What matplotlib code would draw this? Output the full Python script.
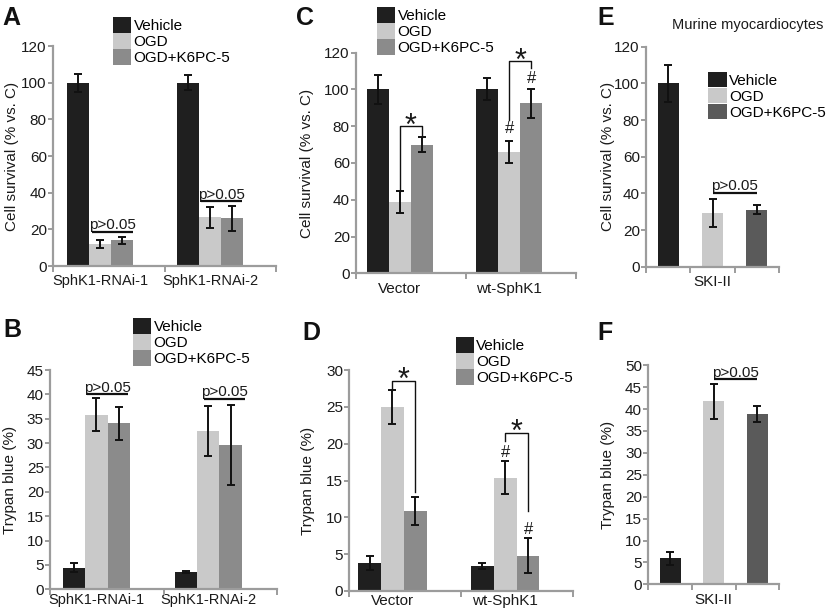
import matplotlib
matplotlib.use("Agg")
import matplotlib.pyplot as plt
import matplotlib.transforms as mtransforms
from matplotlib.patches import Patch

plt.rcParams['font.family'] = ['Liberation Sans', 'DejaVu Sans']

# ---------------- data ----------------
series_names = ["Vehicle", "OGD", "OGD+K6PC-5"]
groups_ab = ["SphK1-RNAi-1", "SphK1-RNAi-2"]
groups_cd = ["Vector", "wt-SphK1"]
group_ef = ["SKI-II"]

# Panel A: cell survival (% vs. C)
a_vehicle = [100, 100]
a_vehicle_err = [5, 4]
a_ogd = [12, 26.5]
a_ogd_err = [2, 5.7]
a_k6 = [14, 26]
a_k6_err = [2, 7]

# Panel B: trypan blue (%)
b_vehicle = [4.4, 3.5]
b_vehicle_err = [0.9, 0.25]
b_ogd = [35.8, 32.5]
b_ogd_err = [3.4, 5.1]
b_k6 = [34.1, 29.7]
b_k6_err = [3.4, 8.2]

# Panel C: cell survival (% vs. C)
c_vehicle = [100, 100]
c_vehicle_err = [8, 6]
c_ogd = [39, 66]
c_ogd_err = [6, 6]
c_k6 = [70, 92.5]
c_k6_err = [4, 8]

# Panel D: trypan blue (%)
d_vehicle = [3.8, 3.4]
d_vehicle_err = [0.9, 0.4]
d_ogd = [25, 15.4]
d_ogd_err = [2.3, 2.2]
d_k6 = [10.8, 4.8]
d_k6_err = [1.9, 2.4]

# Panel E: murine myocardiocytes, cell survival
e_values = [100, 29.5, 31]
e_errors = [10, 7.6, 2.5]

# Panel F: trypan blue
f_values = [5.9, 41.8, 38.9]
f_errors = [1.5, 4, 1.85]

# ---------------- style ----------------
W, H = 830, 612
COL_VEH = '#1f1f1f'
COL_OGD = '#c9c9c9'
COL_K6 = '#8b8b8b'
COL_K6_DARK = '#5a5a5a'
AXCOL = '#9c9c9c'
TXT = '#1a1a1a'
FS = 11

fig = plt.figure(figsize=(W / 100, H / 100), dpi=100)


def px_rect(left, right, top, bottom):
    return [left / W, 1 - bottom / H, (right - left) / W, (bottom - top) / H]


def style_axes(ax, ylim, ystep, ylabel, ylabel_x, xpad):
    for s in ('top', 'right'):
        ax.spines[s].set_visible(False)
    for s in ('left', 'bottom'):
        ax.spines[s].set_color(AXCOL)
        ax.spines[s].set_linewidth(1.6)
    ax.set_ylim(*ylim)
    ticks = list(range(ylim[0], ylim[1] + 1, ystep))
    ax.set_yticks(ticks)
    ax.tick_params(axis='y', which='major', direction='out', length=3.5, width=1.4,
                   color=AXCOL, labelcolor=TXT, labelsize=FS, pad=1)
    ax.tick_params(axis='x', which='major', length=0, labelcolor=TXT, labelsize=FS, pad=xpad)
    ax.tick_params(axis='x', which='minor', direction='out', length=4, width=1.4, color=AXCOL)
    ax.set_ylabel(ylabel, fontsize=FS, color=TXT)
    ax.yaxis.label.set_va('center')
    tr = mtransforms.blended_transform_factory(fig.transFigure, ax.transAxes)
    ax.yaxis.set_label_coords(ylabel_x / W, 0.5, transform=tr)


def add_legend(ax, colors, x_px, y_px):
    handles = [Patch(facecolor=c, edgecolor='none') for c in colors]
    ax.legend(handles, series_names, loc='upper left',
              bbox_to_anchor=(x_px / W, 1 - y_px / H), bbox_transform=fig.transFigure,
              frameon=False, fontsize=FS, handlelength=1.2, handleheight=1.2,
              handletextpad=0.15, labelspacing=0.0, borderpad=0, borderaxespad=0)


def err(ax, x, v, e):
    ax.errorbar(x, v, yerr=e, fmt='none', ecolor='#111111', elinewidth=1.4,
                capsize=2.6, capthick=1.4, zorder=3)


def sig_line(ax, x1, x2, y, text='p>0.05'):
    ax.plot([x1, x2], [y, y], color='#111111', lw=1.6, solid_capstyle='butt',
            clip_on=False, zorder=4)
    ax.annotate(text, xy=((x1 + x2) / 2, y), xytext=(0, 2), textcoords='offset points',
                ha='center', va='baseline', fontsize=FS, color=TXT)


def bracket(ax, x1, x2, y, yl, yr):
    ax.plot([x1, x1, x2, x2], [yl, y, y, yr], color='#111111', lw=1.0,
            clip_on=False, zorder=4)
    ax.annotate('*', xy=((x1 + x2) / 2, y), xytext=(0, -6.0), textcoords='offset points',
                ha='center', va='baseline', fontsize=22, color=TXT)


def hash_mark(ax, x, y, off=3.3):
    ax.annotate('#', xy=(x, y), xytext=(0, off), textcoords='offset points',
                ha='center', va='baseline', fontsize=12, color=TXT)


def grouped_panel(rect, span, starts, ylim, ystep, ylabel, ylabel_x, groups, vals, errs, xpad):
    ax = fig.add_axes(rect)
    colors = [COL_VEH, COL_OGD, COL_K6]
    for i in range(3):
        xs = [s + 0.5 + i for s in starts]
        ax.bar(xs, vals[i], width=1.0, color=colors[i], zorder=2)
        err(ax, xs, vals[i], errs[i])
    ax.set_xlim(0, span)
    ax.set_xticks([s + 1.5 for s in starts])
    ax.set_xticklabels(groups)
    ax.set_xticks([0, span / 2, span], minor=True)
    style_axes(ax, ylim, ystep, ylabel, ylabel_x, xpad)
    return ax


# ---------------- Panel A ----------------
starts_a = [0.64, 5.64]
axA = grouped_panel(px_rect(53, 276, 46, 266), 10.14, starts_a, (0, 120), 20,
                    'Cell survival (% vs. C)', 12, groups_ab,
                    [a_vehicle, a_ogd, a_k6], [a_vehicle_err, a_ogd_err, a_k6_err], 6)
axA.tick_params(axis='x', which='major', labelsize=10.5)
sig_line(axA, starts_a[0] + 1.15, starts_a[0] + 3.0, 18.4)
sig_line(axA, starts_a[1] + 1.1, starts_a[1] + 2.95, 35.3)
add_legend(axA, [COL_VEH, COL_OGD, COL_K6], 113, 17)

# ---------------- Panel B ----------------
starts_b = [0.58, 5.6]
axB = grouped_panel(px_rect(50, 277, 370, 589.3), 10.18, starts_b, (0, 45), 5,
                    'Trypan blue (%)', 10, groups_ab,
                    [b_vehicle, b_ogd, b_k6], [b_vehicle_err, b_ogd_err, b_k6_err], 3)
axB.tick_params(axis='x', which='major', labelsize=10.5)
sig_line(axB, starts_b[0] + 1.08, starts_b[0] + 2.92, 40.0)
sig_line(axB, starts_b[1] + 1.3, starts_b[1] + 3.14, 39.0)
add_legend(axB, [COL_VEH, COL_OGD, COL_K6], 133, 318)

# ---------------- Panel C ----------------
starts_c = [0.48, 5.43]
axC = grouped_panel(px_rect(356, 576, 52.7, 273.3), 9.95, starts_c, (0, 120), 20,
                    'Cell survival (% vs. C)', 307, groups_cd,
                    [c_vehicle, c_ogd, c_k6], [c_vehicle_err, c_ogd_err, c_k6_err], 6)
bracket(axC, starts_c[0] + 1.5, starts_c[0] + 2.5, 80, c_ogd[0] + c_ogd_err[0], c_k6[0] + c_k6_err[0])
bracket(axC, starts_c[1] + 1.5, starts_c[1] + 2.5, 115.3, 83.4, 111.5)
hash_mark(axC, starts_c[1] + 1.5, c_ogd[1] + c_ogd_err[1], off=5.8)
hash_mark(axC, starts_c[1] + 2.5, c_k6[1] + c_k6_err[1], off=3.8)
add_legend(axC, [COL_VEH, COL_OGD, COL_K6], 377, 7)

# ---------------- Panel D ----------------
starts_d = [0.39, 5.34]
axD = grouped_panel(px_rect(349.3, 573, 370, 591), 9.81, starts_d, (0, 30), 5,
                    'Trypan blue (%)', 308, groups_cd,
                    [d_vehicle, d_ogd, d_k6], [d_vehicle_err, d_ogd_err, d_k6_err], 2)
bracket(axD, starts_d[0] + 1.5, starts_d[0] + 2.5, 28.5, d_ogd[0] + d_ogd_err[0], 13.5)
bracket(axD, starts_d[1] + 1.5, starts_d[1] + 2.5, 21.5, 20.3, 10.8)
hash_mark(axD, starts_d[1] + 1.5, d_ogd[1] + d_ogd_err[1], off=3.0)
hash_mark(axD, starts_d[1] + 2.5, d_k6[1] + d_k6_err[1], off=3.0)
add_legend(axD, [COL_VEH, COL_OGD, COL_K6], 455.7, 337.3)


# ---------------- Panels E, F ----------------
def single_panel(rect, ylim, ystep, ylabel, ylabel_x, vals, errs, xpad):
    ax = fig.add_axes(rect)
    colors = [COL_VEH, COL_OGD, COL_K6_DARK]
    xs = list(range(len(vals)))
    ax.bar(xs, vals, width=0.48, color=colors, zorder=2)
    err(ax, xs, vals, errs)
    ax.set_xlim(-0.5, 2.5)
    ax.set_xticks([1])
    ax.set_xticklabels(group_ef)
    ax.set_xticks([-0.5, 0.5, 1.5, 2.5], minor=True)
    style_axes(ax, ylim, ystep, ylabel, ylabel_x, xpad)
    return ax


axE = single_panel(px_rect(646, 779, 46.7, 266.7), (0, 120), 20,
                   'Cell survival (% vs. C)', 608, e_values, e_errors, 6)
sig_line(axE, 1, 2, 40.4)
add_legend(axE, [COL_VEH, COL_OGD, COL_K6_DARK], 708.3, 71.7)
fig.text(671.7 / W, 1 - 25 / H, 'Murine myocardiocytes', ha='left', va='center',
         fontsize=10.5, color=TXT)

axF = single_panel(px_rect(648.3, 779.3, 365.3, 584.3), (0, 50), 5,
                   'Trypan blue (%)', 608, f_values, f_errors, 6)
sig_line(axF, 1, 2, 46.8)

# ---------------- panel letters ----------------
for letter, x, y in [('A', 2, 25), ('B', 3, 337), ('C', 296, 25),
                     ('D', 302, 340), ('E', 597, 25), ('F', 597, 340)]:
    fig.text(x / W, 1 - y / H, letter, ha='left', va='baseline', fontsize=18,
             fontweight='bold', color='#111111')

fig.savefig('out.png', dpi=100)
